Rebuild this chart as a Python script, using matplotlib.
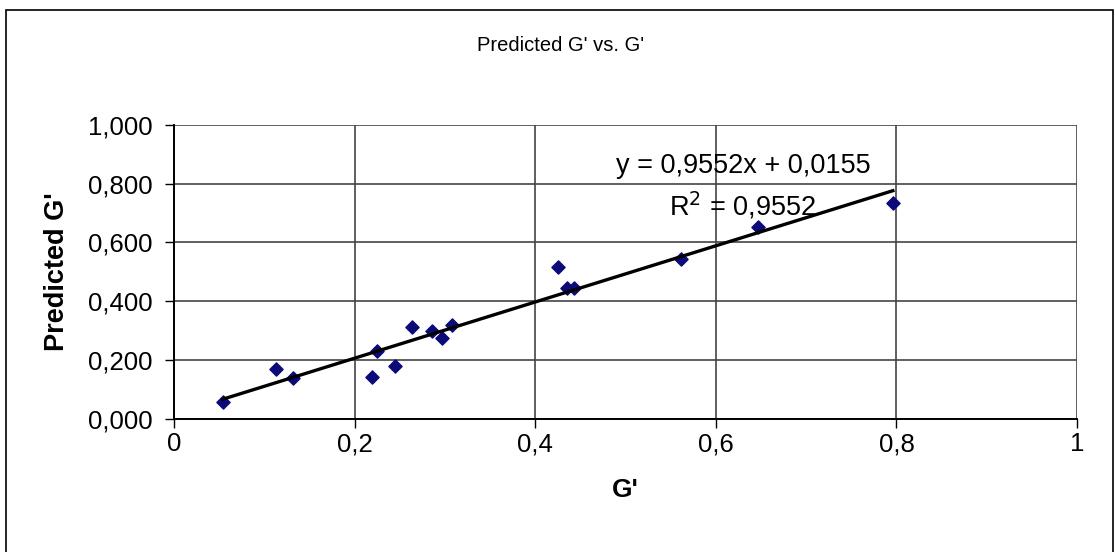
import numpy as np
import matplotlib
matplotlib.use("Agg")
import matplotlib.pyplot as plt
from matplotlib.patches import Rectangle

# measured vs predicted storage modulus
g_measured = [0.054, 0.113, 0.132, 0.219, 0.225, 0.245, 0.264, 0.286,
              0.297, 0.308, 0.425, 0.435, 0.443, 0.561, 0.647, 0.796]
g_predicted = [0.058, 0.170, 0.139, 0.143, 0.231, 0.180, 0.313, 0.299,
               0.276, 0.320, 0.517, 0.446, 0.446, 0.544, 0.653, 0.735]

slope = 0.9552
intercept = 0.0155
r_squared = 0.9552

x_ticks = [0, 0.2, 0.4, 0.6, 0.8, 1]
x_tick_labels = ['0', '0,2', '0,4', '0,6', '0,8', '1']
y_ticks = [0, 0.2, 0.4, 0.6, 0.8, 1.0]
y_tick_labels = ['0,000', '0,200', '0,400', '0,600', '0,800', '1,000']

plt.rcParams['font.family'] = ['Liberation Sans', 'DejaVu Sans']

fig = plt.figure(figsize=(11.15, 5.52), dpi=100)
ax = fig.add_axes([0.156, 0.241, 0.810, 0.533])

# outer chart border
fig.patches.append(Rectangle((0.005, -0.01), 0.993, 0.992, transform=fig.transFigure,
                             fill=False, edgecolor='black', linewidth=1.2))

ax.scatter(g_measured, g_predicted, marker='D', s=45, color='#0a0a78', zorder=3)

xs = np.array([min(g_measured), max(g_measured)])
ax.plot(xs, slope * xs + intercept, color='black', linewidth=2.4, zorder=4)

ax.set_xlim(0, 1)
ax.set_ylim(0, 1)
ax.set_xticks(x_ticks)
ax.set_xticklabels(x_tick_labels, fontsize=18.5)
ax.set_yticks(y_ticks)
ax.set_yticklabels(y_tick_labels, fontsize=18.5)
ax.tick_params(axis='both', direction='out', length=6.5, width=1, colors='black')
ax.tick_params(axis='x', pad=3)
ax.tick_params(axis='y', pad=9)

ax.grid(True, color='#444444', linewidth=1.2)
ax.set_axisbelow(True)
for side in ['top', 'right']:
    ax.spines[side].set_visible(False)
ax.spines['left'].set_linewidth(1.4)
ax.spines['bottom'].set_linewidth(1.4)

ax.set_xlabel("G'", fontsize=19, fontweight='bold', labelpad=16)
ax.set_ylabel("Predicted G'", fontsize=19.5, fontweight='bold', labelpad=13)
fig.text(0.503, 0.918, "Predicted G' vs. G'", ha='center', va='center', fontsize=14.5)

ax.text(0.63, 0.861, f"y = {slope:.4f}x + {intercept:.4f}".replace('.', ','),
        transform=ax.transAxes, ha='center', va='center', fontsize=19.5)
ax.text(0.63, 0.724, f"R$^2$ = {r_squared:.4f}".replace('.', ','),
        transform=ax.transAxes, ha='center', va='center', fontsize=19.5)

fig.savefig('out.png', dpi=100)
